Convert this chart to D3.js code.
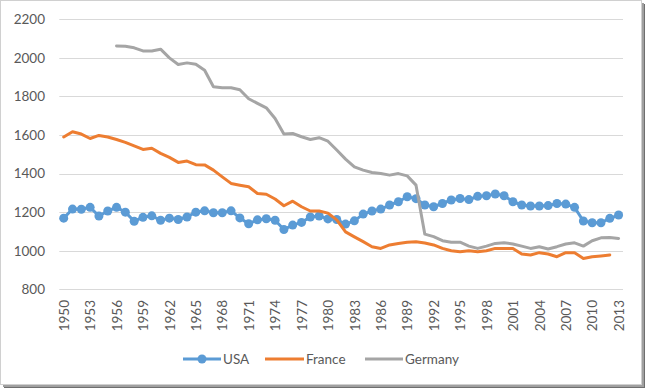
<!DOCTYPE html>
<html>
<head>
<meta charset="utf-8">
<script src="https://cdn.jsdelivr.net/npm/d3@7"></script>
<style>
    body { margin: 0; background: #ffffff; }
    svg { display: block; }
</style>
</head>
<body>
<div id="chart"></div>
<script>
var width = 647;
var height = 390;

// categories
var years = d3.range(1950, 2014);
var tickYears = years.filter(y => (y - 1950) % 3 == 0);
var yTicks = [800, 1000, 1200, 1400, 1600, 1800, 2000, 2200];

// series values
var usa = [1169, 1216, 1215, 1225, 1180, 1206, 1225, 1200, 1153, 1173,
    1181, 1158, 1169, 1162, 1175, 1200, 1207, 1197, 1197, 1207,
    1170, 1140, 1160, 1166, 1158, 1110, 1133, 1147, 1175, 1180,
    1165, 1162, 1138, 1155, 1190, 1206, 1216, 1237, 1254, 1280,
    1270, 1237, 1228, 1245, 1263, 1271, 1265, 1282, 1285, 1294,
    1285, 1254, 1237, 1232, 1232, 1234, 1245, 1242, 1225, 1154,
    1145, 1145, 1168, 1185];

var france = [1590, 1617, 1605, 1582, 1598, 1590, 1577, 1562, 1544, 1525,
    1531, 1505, 1484, 1458, 1465, 1446, 1445, 1418, 1383, 1349,
    1340, 1332, 1297, 1293, 1268, 1233, 1257, 1228, 1206, 1206,
    1195, 1160, 1098, 1072, 1047, 1021, 1012, 1030, 1038, 1044,
    1047, 1040, 1030, 1012, 1000, 995, 1000, 995, 1000, 1012,
    1012, 1012, 983, 978, 990, 983, 969, 990, 990, 960,
    969, 973, 978, null];

var germany = [null, null, null, null, null, null, 2062, 2060, 2052, 2036,
    2036, 2045, 2000, 1966, 1974, 1967, 1936, 1850, 1845, 1845,
    1835, 1788, 1764, 1741, 1686, 1605, 1608, 1591, 1577, 1586,
    1568, 1522, 1475, 1435, 1418, 1406, 1400, 1392, 1400, 1388,
    1340, 1086, 1073, 1052, 1044, 1044, 1024, 1012, 1024, 1038,
    1041, 1035, 1024, 1012, 1021, 1009, 1021, 1035, 1041, 1024,
    1052, 1067, 1069, 1064];

var seriesNames = ["USA", "France", "Germany"];
var colors = ["#5b9bd5", "#ed7d31", "#a5a5a5"];

var textColor = "#595959";
var fontFamily = "Lato, 'Open Sans', 'DejaVu Sans', sans-serif";

var svg = d3.select("#chart").append("svg")
    .attr("width", width)
    .attr("height", height);

// frame with a drop shadow on the right and bottom
svg.append("rect").attr("x", 4).attr("y", 4).attr("width", 641).attr("height", 384)
    .attr("fill", "#6f6f6f");
svg.append("rect").attr("x", 3).attr("y", 3).attr("width", 641).attr("height", 384)
    .attr("fill", "#a0a0a0");
svg.append("rect").attr("x", 0.5).attr("y", 0.5).attr("width", 641).attr("height", 384)
    .attr("fill", "#ffffff").attr("stroke", "#d0d0d0");

var x = d3.scalePoint()
    .domain(years)
    .range([59.3, 623])
    .padding(0.5);

var y = d3.scaleLinear()
    .domain([800, 2200])
    .range([289.3, 19.3]);

// gridlines
svg.append("g")
    .selectAll("line")
    .data(yTicks).enter().append("line")
    .attr("x1", 59.3).attr("x2", 623)
    .attr("y1", d => Math.round(y(d)) + 0.5)
    .attr("y2", d => Math.round(y(d)) + 0.5)
    .attr("stroke", "#d9d9d9").attr("stroke-width", 1);

// y axis labels
var yAxis = d3.axisLeft(y).tickValues(yTicks).tickFormat(d3.format("d"))
    .tickSize(0).tickPadding(0);
svg.append("g")
    .attr("transform", "translate(45,0)")
    .call(yAxis)
    .call(g => g.select(".domain").remove())
    .selectAll("text")
    .attr("fill", textColor)
    .attr("font-family", fontFamily)
    .attr("font-size", "13.5px");

// x axis labels, rotated
var xAxis = d3.axisBottom(x).tickValues(tickYears).tickSize(0).tickPadding(0);
svg.append("g")
    .attr("transform", "translate(0,300)")
    .call(xAxis)
    .call(g => g.select(".domain").remove())
    .selectAll("text")
    .attr("fill", textColor)
    .attr("font-family", fontFamily)
    .attr("font-size", "13.5px")
    .attr("text-anchor", "end")
    .attr("dy", "0.35em")
    .attr("transform", "rotate(-90)")
    .attr("x", 0).attr("y", 0);

var line = d3.line()
    .defined(d => d != null)
    .x((d, i) => x(years[i]))
    .y(d => y(d));

var allSeries = [usa, france, germany];

allSeries.forEach((values, k) => {
    svg.append("path")
        .datum(values)
        .attr("d", line)
        .attr("fill", "none")
        .attr("stroke", colors[k])
        .attr("stroke-width", 3)
        .attr("stroke-linejoin", "round")
        .attr("stroke-linecap", "round");

    // only USA has markers
    if (k == 0) {
        svg.append("g")
            .selectAll("circle")
            .data(values).enter().append("circle")
            .attr("cx", (d, i) => x(years[i]))
            .attr("cy", d => y(d))
            .attr("r", 4.5)
            .attr("fill", colors[k]);
    }
});

// legend
var legendItems = [
    { name: seriesNames[0], x1: 183, x2: 221, tx: 223 },
    { name: seriesNames[1], x1: 265, x2: 304, tx: 306 },
    { name: seriesNames[2], x1: 365, x2: 403, tx: 405 }
];
var legend = svg.append("g").attr("transform", "translate(0,359)");
legendItems.forEach((item, k) => {
    legend.append("line")
        .attr("x1", item.x1).attr("x2", item.x2)
        .attr("y1", 0).attr("y2", 0)
        .attr("stroke", colors[k]).attr("stroke-width", 3);
    if (k == 0) {
        legend.append("circle")
            .attr("cx", (item.x1 + item.x2) / 2).attr("cy", 0)
            .attr("r", 4.5).attr("fill", colors[k]);
    }
    legend.append("text")
        .attr("x", item.tx).attr("y", 0).attr("dy", "0.35em")
        .attr("fill", textColor)
        .attr("font-family", fontFamily)
        .attr("font-size", "13.5px")
        .text(item.name);
});
</script>
</body>
</html>
